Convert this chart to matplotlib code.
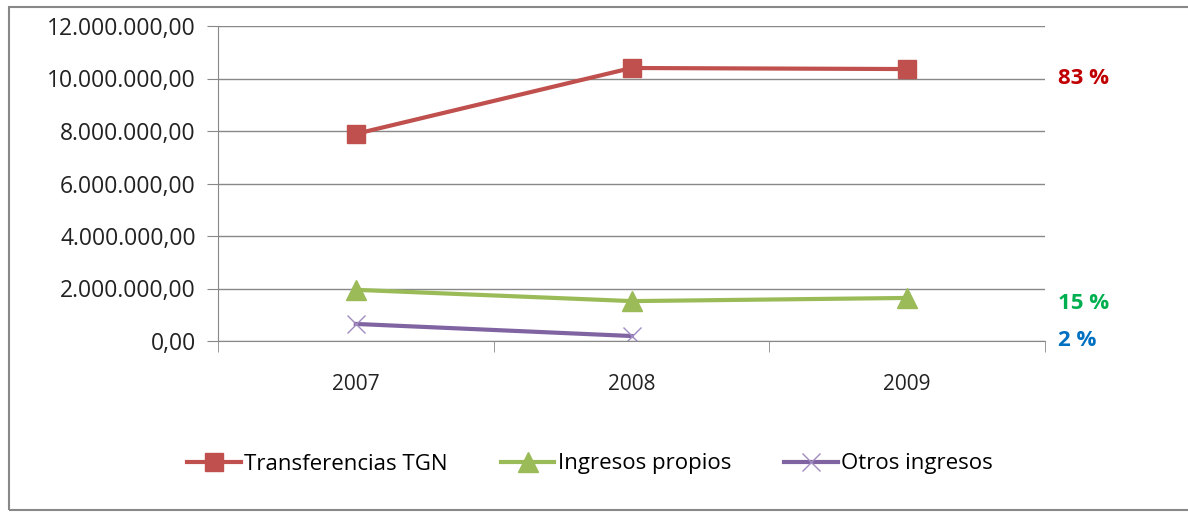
import numpy as np
import matplotlib.pyplot as plt
from matplotlib.patches import Rectangle
from matplotlib.ticker import FuncFormatter

# Data
years = ['2007', '2008', '2009']
tgn = [7890000, 10400000, 10360000]
propios = [1950000, 1520000, 1640000]
otros = [650000, 190000]
pct_labels = ['83 %', '15 %', '2 %']
pct_colors = ['#C00000', '#00B050', '#0070C0']

plt.rcParams['font.family'] = ['Open Sans', 'DejaVu Sans']

fig = plt.figure(figsize=(11.88, 5.12), dpi=100)
ax = fig.add_axes([218/1188, 1 - 341/512, (1045-218)/1188, (341-26)/512])

x = np.arange(len(years))
ax.plot(x, tgn, color='#C0504D', lw=3, marker='s', ms=13, label='Transferencias TGN')
ax.plot(x, propios, color='#9BBB59', lw=3, marker='^', ms=14, label='Ingresos propios')
ax.plot(x[:len(otros)], otros, color='#8064A2', lw=3, marker='x', ms=13,
        mew=1, mec='#A08CC0', label='Otros ingresos')

ax.set_xlim(-0.5, 2.5)
ax.set_ylim(0, 12000000)
ax.set_yticks(np.arange(0, 12000001, 2000000))
ax.yaxis.set_major_formatter(FuncFormatter(
    lambda v, p: '{:,.2f}'.format(v).replace(',', 'X').replace('.', ',').replace('X', '.')))
ax.set_xticks(x)
ax.set_xticklabels(years)
ax.set_xticks([-0.5, 0.5, 1.5, 2.5], minor=True)
ax.tick_params(axis='x', which='major', length=0, pad=24, labelsize=15, colors='#222222')
ax.tick_params(axis='x', which='minor', length=8, color='#888888')
ax.tick_params(axis='y', length=8, pad=8, color='#888888', labelsize=16.5, labelcolor='#222222')
ax.grid(axis='y', color='#888888', lw=1)
ax.set_axisbelow(True)
for s in ['top', 'right']:
    ax.spines[s].set_visible(False)
for s in ['left', 'bottom']:
    ax.spines[s].set_color('#888888')

# percentage labels, to the right of the plot area
label_y = [tgn[2] - 350000, propios[2] - 200000, 0]
for lab, col, yv in zip(pct_labels, pct_colors, label_y):
    ax.annotate(lab, xy=(1.0, yv), xycoords=('axes fraction', 'data'),
                xytext=(9, 0), textcoords='offset points', va='center', ha='left',
                fontsize=16, fontweight='bold', color=col)

fig.legend(loc='center', bbox_to_anchor=(590/1188, 1 - 464/512), ncol=3, frameon=False,
           fontsize=16, handlelength=2.4, columnspacing=2.4, handletextpad=0.15)

fig.patches.append(Rectangle((9/1188, 2/512), 1.2, 503/512, transform=fig.transFigure,
                             fill=False, edgecolor='#888888', lw=1.5))

fig.savefig('out.png', dpi=100)
